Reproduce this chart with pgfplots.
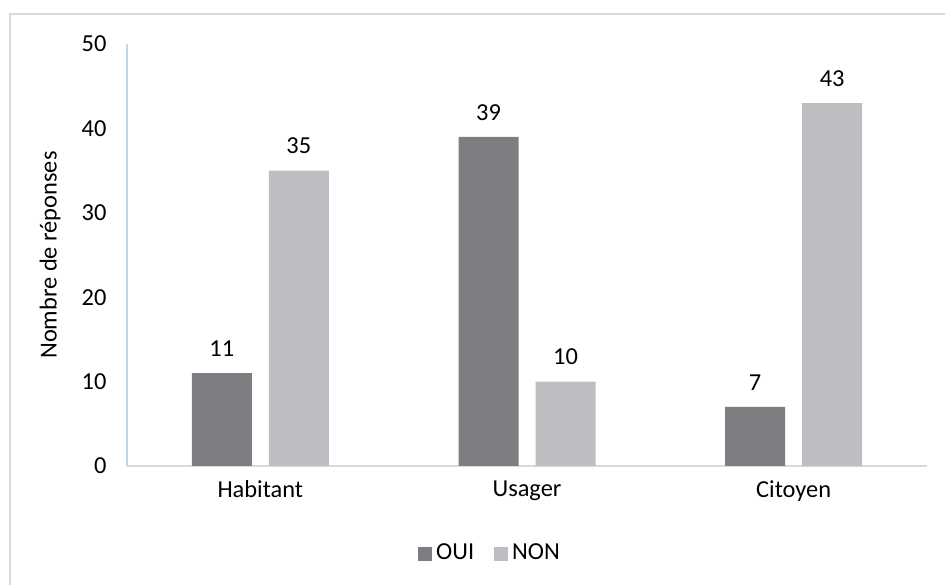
\documentclass[border=0pt]{standalone}
\usepackage{fontspec}
\setmainfont{Carlito}
\usepackage{pgfplots}
\pgfplotsset{compat=1.18}
\definecolor{oui}{HTML}{7D7E82}
\definecolor{non}{HTML}{BDBEC2}
\definecolor{frame}{HTML}{D9D9D9}
\definecolor{yline}{HTML}{C3D3EA}
\begin{document}
\fontsize{12.2bp}{14bp}\selectfont
\begin{tikzpicture}
\useasboundingbox (0,0) rectangle (472.5bp,292.5bp);
\draw[frame, line width=1bp] (5bp,-2bp) -- (5bp,285.5bp) -- (475bp,285.5bp);
\begin{axis}[
    at={(63.5bp,59.5bp)}, anchor=south west,
    scale only axis, width=400bp, height=211bp,
    xmin=-0.5, xmax=2.5, ymin=0, ymax=50,
    xtick={0,1,2}, xticklabels={Habitant,Usager,Citoyen},
    ytick={0,10,...,50},
    axis x line*=bottom, axis y line*=left,
    x axis line style={frame, line width=1bp},
    y axis line style={yline, line width=1bp},
    major tick length=0pt,
    xticklabel style={yshift=-3bp},
    yticklabel style={xshift=-6bp},
    /pgf/number format/assume math mode=true,
    ylabel={Nombre de réponses},
    ylabel style={at={(axis description cs:-0.09625,0.5)}, anchor=center},
    every axis label/.append style={font=\fontsize{12.2bp}{14bp}\selectfont},
    ybar, bar width=30bp,
    nodes near coords,
    nodes near coords style={yshift=4bp},
    legend style={at={(0.5,-0.165)}, xshift=-18bp, anchor=north, draw=none, legend columns=-1,
        /tikz/every even column/.append style={column sep=8bp}},
    legend image code/.code={\fill[#1] (0bp,-3.5bp) rectangle (7bp,3.5bp);},
    ]
\addplot[fill=oui, draw=none, bar shift=-19.25bp] coordinates {(0,11) (1,39) (2,7)};
\addplot[fill=non, draw=none, bar shift=19.25bp] coordinates {(0,35) (1,10) (2,43)};
\legend{OUI,NON}
\end{axis}
\end{tikzpicture}
\end{document}
